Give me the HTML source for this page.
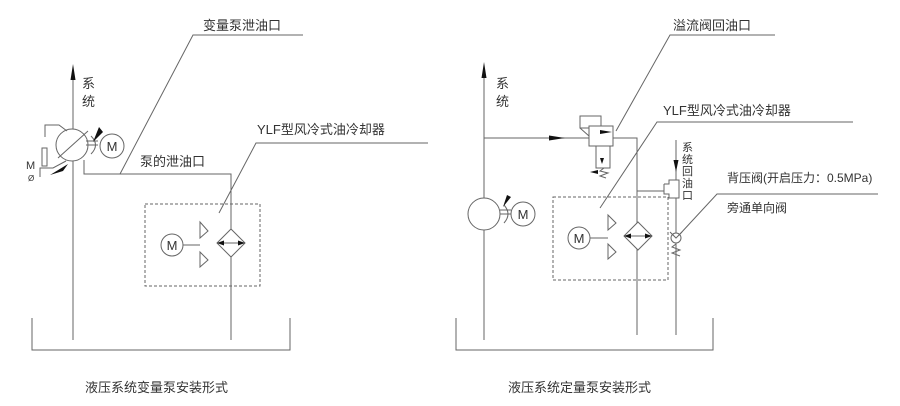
<!DOCTYPE html>
<html><head><meta charset="utf-8"><style>
html,body{margin:0;padding:0;background:#fff;}
svg{display:block;}
text{font-family:"Liberation Sans","Noto Sans CJK SC",sans-serif;fill:#333;}
</style></head><body>
<svg width="900" height="406" viewBox="0 0 900 406" xmlns="http://www.w3.org/2000/svg">
<g stroke="#666" stroke-width="1" fill="none">
<!-- LEFT -->
<line x1="73" y1="78" x2="73" y2="340"/>
<polygon points="73,64 70.5,80 75.5,80" fill="#111" stroke="none"/>
<circle cx="72" cy="145" r="16" fill="#fff"/>
<line x1="58" y1="158" x2="88" y2="131"/>
<line x1="86" y1="145" x2="98" y2="145"/>
<line x1="86" y1="141" x2="98" y2="141"/>
<path d="M91,136 Q100,145 91,154"/>
<circle cx="112" cy="146" r="12" fill="#fff"/>
<polygon points="93,142 99,127 103,132" fill="#111" stroke="none"/>
<polyline points="45,137 45,125 59,125 67,131"/>
<rect x="42" y="148" width="5" height="18"/>
<polyline points="40,177 40,168 53,168 66,161"/>
<polygon points="50,175 68,164 63,171" fill="#111" stroke="none"/>
<polyline points="84,160 84,174 231,174 231,340"/>
<polyline points="120,174 193,35 303,35"/>
<polyline points="219,213 256,143 428,143"/>
<rect x="145" y="204" width="115" height="82" stroke-dasharray="3,2"/>
<circle cx="172" cy="245" r="11"/>
<line x1="183" y1="245" x2="200" y2="245"/>
<polygon points="200,222 208,231 200,238"/>
<polygon points="200,252 208,260 200,267"/>
<polygon points="231,229 245,243 231,257 217,243" fill="#fff"/>
<line x1="220" y1="243" x2="242" y2="243"/>
<polygon points="217,243 224,240.5 224,245.5" fill="#111" stroke="none"/>
<polygon points="245,243 238,240.5 238,245.5" fill="#111" stroke="none"/>
<polyline points="32,318 32,350 290,350 290,318"/>
<!-- RIGHT -->
<line x1="484" y1="76" x2="484" y2="340"/>
<polygon points="484,62 481.5,78 486.5,78" fill="#111" stroke="none"/>
<line x1="484" y1="138" x2="589" y2="138"/>
<polygon points="565,138 549,135.5 549,140.5" fill="#111" stroke="none"/>
<rect x="580" y="116" width="21" height="12" fill="#fff"/>
<line x1="580" y1="128" x2="589" y2="136"/>
<rect x="589" y="126" width="24" height="20" fill="#fff"/>
<polygon points="612,132 600,130 600,134" fill="#111" stroke="none"/>
<polyline points="596,146 596,168 610,168 610,146"/>
<polygon points="602,164 600,158 604,158" fill="#111" stroke="none"/>
<path d="M604,168 L600,171 L608,173 L600,176 L606,178"/>
<polygon points="590,172 598,170 598,174" fill="#111" stroke="none"/>
<polyline points="613,138 637,138 637,335"/>
<circle cx="484" cy="214" r="16" fill="#fff"/>
<line x1="500" y1="214" x2="511" y2="214"/>
<line x1="500" y1="210" x2="511" y2="210"/>
<path d="M504,205 Q512,214 504,223"/>
<circle cx="523" cy="214" r="12" fill="#fff"/>
<polygon points="503,207 507,195 511,197" fill="#111" stroke="none"/>
<rect x="553" y="197" width="115" height="83" stroke-dasharray="3,2"/>
<circle cx="579" cy="238" r="11"/>
<line x1="590" y1="238" x2="608" y2="238"/>
<polygon points="608,215 616,223 608,230"/>
<polygon points="608,244 616,252 608,259"/>
<polygon points="638,222 652,236 638,250 624,236" fill="#fff"/>
<line x1="627" y1="236" x2="649" y2="236"/>
<polygon points="624,236 631,233.5 631,238.5" fill="#111" stroke="none"/>
<polygon points="652,236 645,233.5 645,238.5" fill="#111" stroke="none"/>
<line x1="676" y1="140" x2="676" y2="335"/>
<polygon points="676,172 673.5,160 678.5,160" fill="#111" stroke="none"/>
<line x1="637" y1="191" x2="664" y2="191"/>
<polyline points="664,184 669,184 669,180 679,180 679,198 669,198 669,194 664,194 664,184" fill="#fff"/>
<circle cx="676" cy="238" r="5" fill="#fff"/>
<polyline points="670,232 676,238 682,232"/>
<path d="M676,244 L672,247 L680,250 L672,253 L680,256"/>
<polyline points="616,131 670,35 775,35"/>
<polyline points="600,208 657,122 853,122"/>
<polyline points="680,234 717,194 878,194"/>
<polyline points="456,318 456,350 713,350 713,318"/>
</g>
<g font-size="13">
<text x="82" y="88">系</text><text x="82" y="106">统</text>
<text x="203" y="30">变量泵泄油口</text>
<text x="140" y="166">泵的泄油口</text>
<text x="257" y="134">YLF型风冷式油冷却器</text>
<text x="26" y="169" font-size="11">M</text>
<text x="28" y="181" font-size="8" fill="#888">Ø</text>
<text x="85" y="392">液压系统变量泵安装形式</text>
<text x="496" y="88">系</text><text x="496" y="106">统</text>
<text x="673" y="30">溢流阀回油口</text>
<text x="663" y="115">YLF型风冷式油冷却器</text>
<text x="508" y="392">液压系统定量泵安装形式</text>
</g>
<g font-size="11">
<text x="682" y="151">系</text><text x="682" y="163">统</text><text x="682" y="175">回</text><text x="682" y="187">油</text><text x="682" y="199">口</text>
<text x="727" y="182" font-size="12">背压阀(开启压力：0.5MPa)</text>
<text x="727" y="212" font-size="12">旁通单向阀</text>
</g>
<g font-size="13" text-anchor="middle">
<text x="112" y="151">M</text><text x="172" y="250">M</text>
<text x="523" y="219">M</text><text x="579" y="243">M</text>
</g>
</svg>
</body></html>
